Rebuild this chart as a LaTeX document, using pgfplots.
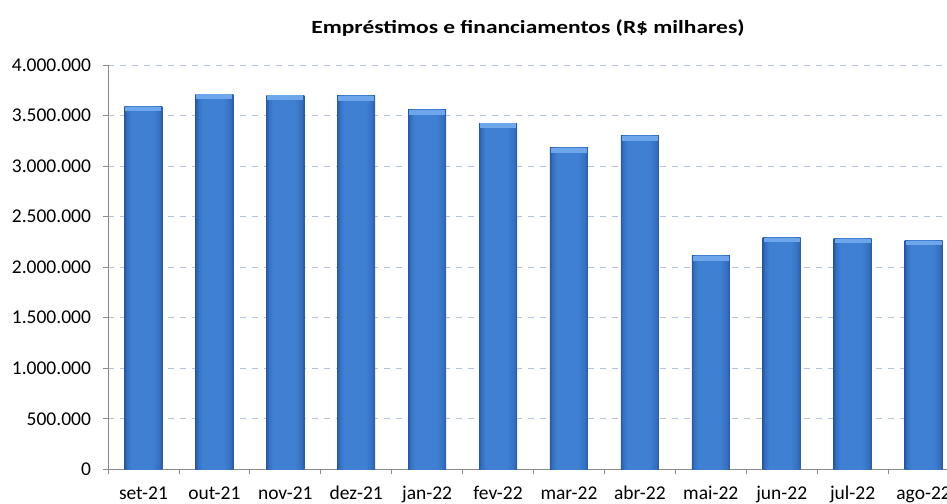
\documentclass[border=0pt]{standalone}
\usepackage{pgfplots}
\pgfplotsset{compat=1.18}
\usepackage{fontspec}
\setmainfont{Carlito}
\definecolor{barEdge}{HTML}{2A58A0}
\definecolor{barSide}{HTML}{3570C0}
\definecolor{barMid}{HTML}{3F80D3}
\definecolor{barTop}{HTML}{6EA6EC}
\definecolor{gridc}{HTML}{B4C4DA}
\definecolor{axisc}{HTML}{8A8A8A}
\pgfdeclarehorizontalshading{barshade}{100bp}{color(0bp)=(barEdge); color(25bp)=(barEdge); color(28bp)=(barSide); color(34bp)=(barMid); color(62bp)=(barMid); color(71bp)=(barSide); color(75bp)=(barEdge); color(100bp)=(barEdge)}
\pgfplotsset{onebar/.style={ybar, bar shift=0pt, bar width=19pt, draw=none, shading=barshade, forget plot}}
\begin{document}
\begin{tikzpicture}
\path[use as bounding box] (-54pt,-16.85pt) rectangle (419.5pt,234.65pt);
\begin{axis}[
  scale only axis,
  width=425.5pt, height=202.15pt,
  xmin=-0.5, xmax=11.5,
  ymin=0, ymax=4000000,
  axis x line*=bottom, axis y line*=left,
  x axis line style={-, draw=axisc},
  y axis line style={-, draw=axisc},
  xtick={-0.5,0.5,...,11.5},
  x tick label as interval,
  xticklabels={set-21,out-21,nov-21,dez-21,jan-22,fev-22,mar-22,abr-22,mai-22,jun-22,jul-22,ago-22},
  ytick={0,500000,...,4000000},
  scaled y ticks=false,
  yticklabel style={xshift=-2.5pt, /pgf/number format/.cd, fixed, precision=0, 1000 sep={.}, assume math mode=true},
  tick align=outside,
  major tick length=2.5pt,
  tick style={draw=axisc, thin},
  ymajorgrids,
  grid style={dashed, gridc, thin},
  tick label style={font=\fontsize{9.75}{11}\selectfont, black},
  xticklabel style={yshift=-2.5pt},
  clip=false,
]
\addplot[onebar] coordinates {(0,3588000)};
\addplot[onebar] coordinates {(1,3713000)};
\addplot[onebar] coordinates {(2,3703000)};
\addplot[onebar] coordinates {(3,3696000)};
\addplot[onebar] coordinates {(4,3555000)};
\addplot[onebar] coordinates {(5,3426000)};
\addplot[onebar] coordinates {(6,3179000)};
\addplot[onebar] coordinates {(7,3298000)};
\addplot[onebar] coordinates {(8,2113000)};
\addplot[onebar] coordinates {(9,2295000)};
\addplot[onebar] coordinates {(10,2285000)};
\addplot[onebar] coordinates {(11,2266000)};
\addplot[forget plot, only marks, mark=-, mark size=9pt,
  mark options={line width=2.2pt, draw=barTop, yshift=-1.3pt}]
coordinates {(0,3588000) (1,3713000) (2,3703000) (3,3696000) (4,3555000) (5,3426000)
(6,3179000) (7,3298000) (8,2113000) (9,2295000) (10,2285000) (11,2266000)};
\end{axis}
\node[anchor=base, xscale=1.26, transform shape, font=\fontsize{9.3}{11}\selectfont\bfseries] at (210pt,218pt) {Empréstimos e financiamentos (R\$ milhares)};
\end{tikzpicture}
\end{document}
